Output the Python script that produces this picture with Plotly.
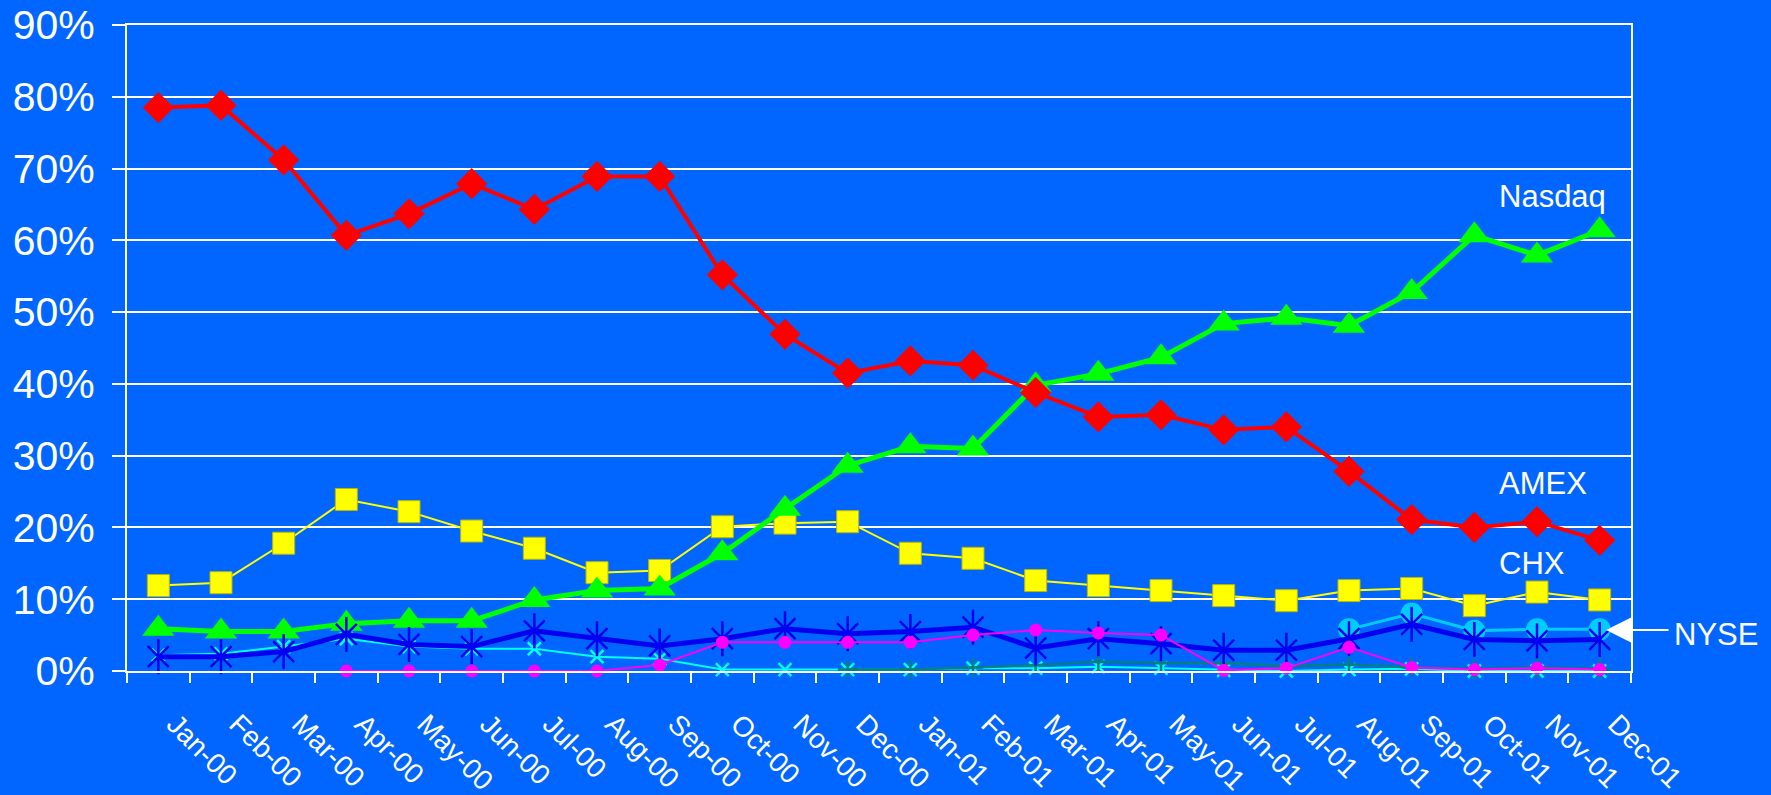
import plotly.graph_objects as go

months = ["Jan-00", "Feb-00", "Mar-00", "Apr-00", "May-00", "Jun-00", "Jul-00", "Aug-00",
          "Sep-00", "Oct-00", "Nov-00", "Dec-00", "Jan-01", "Feb-01", "Mar-01", "Apr-01",
          "May-01", "Jun-01", "Jul-01", "Aug-01", "Sep-01", "Oct-01", "Nov-01", "Dec-01"]

red_diamond = [78.5, 78.8, 71.2, 60.7, 63.7, 67.9, 64.3, 68.9, 68.9, 55.2, 46.9, 41.5,
               43.2, 42.6, 38.8, 35.4, 35.7, 33.6, 34.0, 27.8, 21.1, 20.0, 20.8, 18.2]
green_triangle = [5.9, 5.5, 5.5, 6.6, 7.0, 7.0, 9.9, 11.2, 11.5, 16.4, 22.6, 28.6,
                  31.3, 31.0, 39.8, 41.4, 43.7, 48.4, 49.2, 48.1, 52.8, 60.7, 57.9, 61.4]
yellow_square = [11.9, 12.3, 17.8, 23.9, 22.2, 19.5, 17.1, 13.7, 14.0, 20.1, 20.6, 20.8,
                 16.4, 15.7, 12.6, 11.9, 11.2, 10.5, 9.8, 11.2, 11.5, 9.1, 11.0, 9.9]
blue_asterisk = [2.0, 2.0, 2.7, 5.1, 3.7, 3.4, 5.6, 4.5, 3.5, 4.5, 5.9, 5.2,
                 5.5, 6.1, 3.2, 4.5, 3.8, 2.9, 2.9, 4.5, 6.5, 4.4, 4.2, 4.4]
cyan_x = [2.2, 2.4, 3.4, 4.5, 3.4, 3.1, 3.1, 2.0, 1.7, 0.2, 0.2, 0.2,
          0.2, 0.4, 0.4, 0.6, 0.4, 0.1, 0.0, 0.2, 0.3, 0.0, 0.0, 0.0]
magenta_circle = [None, None, None, 0.0, 0.0, 0.0, 0.0, 0.0, 0.85, 4.0, 4.0, 4.0,
                  4.0, 5.0, 5.7, 5.3, 5.0, 0.1, 0.4, 3.3, 0.5, 0.2, 0.4, 0.2]
teal_cross = [None, None, None, None, None, None, None, None, None, None, None, 0.2,
              0.2, 0.5, 0.8, 1.3, 1.1, 1.1, 0.7, 0.9, 0.5, 0.3, 0.5, 0.3]
skyblue_circle = [None, None, None, None, None, None, None, None, None, None, None, None,
                  None, None, None, None, None, None, None, 5.8, 8.0, 5.6, 5.8, 5.8]

y_ticks = [0, 10, 20, 30, 40, 50, 60, 70, 80, 90]
y_tick_text = ["0%", "10%", "20%", "30%", "40%", "50%", "60%", "70%", "80%", "90%"]

BG = "#0066FF"
BLUE = "#0000F0"
fig = go.Figure()


def add(y, **kw):
    fig.add_trace(go.Scatter(x=months, y=y, cliponaxis=False, **kw))


add(yellow_square, mode="lines+markers",
    line=dict(color="#FFFF00", width=2),
    marker=dict(symbol="square", size=22, color="#FFFF00",
                line=dict(color="#B8B800", width=1)))
add(green_triangle, mode="lines+markers",
    line=dict(color="#00FF00", width=5),
    marker=dict(symbol="triangle-up", size=28, color="#00FF00"))
add(skyblue_circle, mode="lines+markers",
    line=dict(color="#00CCFF", width=3),
    marker=dict(symbol="circle", size=22, color="#00CCFF"))
add(cyan_x, mode="lines+markers",
    line=dict(color="#00FFFF", width=2),
    marker=dict(symbol="x-thin-open", size=13, color="#00FFFF",
                line=dict(color="#00FFFF", width=2.5)))
add(teal_cross, mode="lines+markers",
    line=dict(color="#008080", width=2.5),
    marker=dict(symbol="cross-thin-open", size=14, color="#008080",
                line=dict(color="#008080", width=2.5)))
add(blue_asterisk, mode="lines+markers",
    line=dict(color=BLUE, width=5),
    marker=dict(symbol="x-thin-open", size=21, color=BLUE,
                line=dict(color=BLUE, width=2.5)))
add(blue_asterisk, mode="markers",
    marker=dict(symbol="line-ns-open", size=25, color=BLUE,
                line=dict(color=BLUE, width=2.5)))
add(magenta_circle, mode="lines+markers",
    line=dict(color="#FF00FF", width=2),
    marker=dict(symbol="circle", size=13, color="#FF00FF"))
add(red_diamond, mode="lines+markers",
    line=dict(color="#FF0000", width=4),
    marker=dict(symbol="diamond", size=24, color="#FF0000"))

label_font = dict(family="Liberation Sans, Arial, sans-serif", size=31, color="white")
fig.add_annotation(text="Nasdaq", xref="paper", yref="paper", x=0.911, y=0.735,
                   xanchor="left", yanchor="middle", showarrow=False, font=label_font)
fig.add_annotation(text="AMEX", xref="paper", yref="paper", x=0.911, y=0.291,
                   xanchor="left", yanchor="middle", showarrow=False, font=label_font)
fig.add_annotation(text="CHX", xref="paper", yref="paper", x=0.911, y=0.167,
                   xanchor="left", yanchor="middle", showarrow=False, font=label_font)
fig.add_annotation(text="NYSE", xref="paper", yref="paper", x=1.027, y=0.056,
                   xanchor="left", yanchor="middle", showarrow=False, font=label_font)
fig.add_annotation(text="", xref="paper", yref="paper", x=0.9834, y=0.0635,
                   ax=64, ay=0, showarrow=True, arrowhead=2, arrowsize=2.5,
                   arrowwidth=2, arrowcolor="white")

fig.update_layout(
    width=1771, height=795,
    paper_bgcolor=BG, plot_bgcolor=BG,
    showlegend=False,
    margin=dict(l=127, r=140, t=25, b=124),
    font=dict(family="Liberation Sans, Arial, sans-serif", color="white"),
)
fig.update_xaxes(
    type="category", range=[-0.5, len(months) - 0.5], autorange=False,
    tickvals=months, ticktext=["\u00a0\u00a0\u00a0" + m for m in months],
    tickangle=45, tickson="boundaries", automargin=False,
    ticks="outside", ticklen=10, tickwidth=2, tickcolor="white",
    showline=True, linecolor="white", linewidth=2, mirror=True,
    showgrid=False, tickfont=dict(size=28, color="white"), ticklabelstandoff=7,
)
fig.update_yaxes(
    range=[0, 90], autorange=False, tickvals=y_ticks, ticktext=y_tick_text,
    automargin=False,
    ticks="outside", ticklen=13, tickwidth=2, tickcolor="white",
    showline=True, linecolor="white", linewidth=2, mirror=True,
    showgrid=True, gridcolor="white", gridwidth=2, zeroline=False,
    tickfont=dict(size=41, color="white"), ticklabelstandoff=9,
)

fig.write_html("out.html", config={"displayModeBar": False},
               post_script="document.body.style.margin='0';document.body.style.overflow='hidden';")
